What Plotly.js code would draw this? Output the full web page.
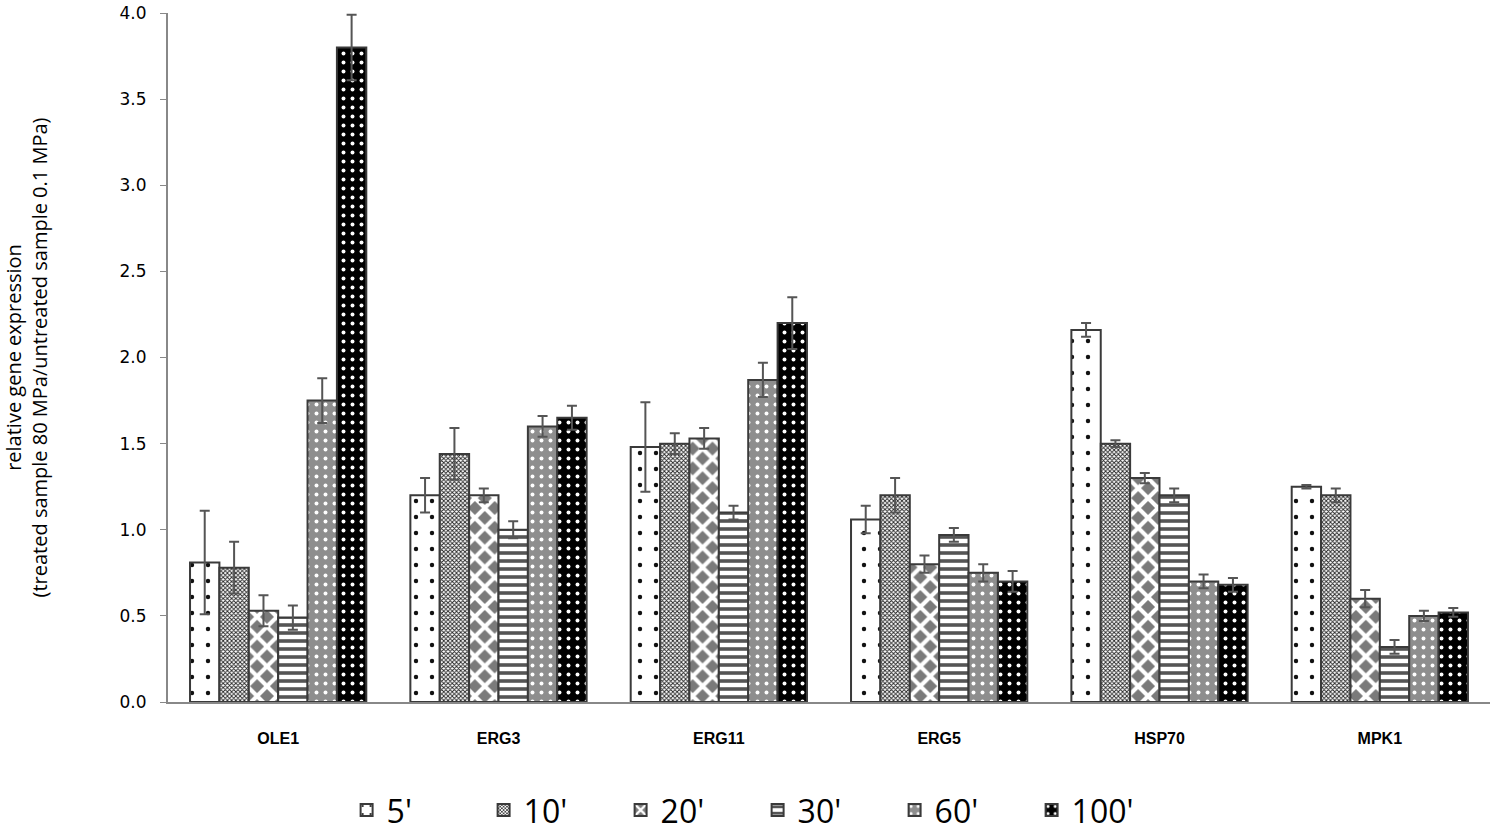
<!DOCTYPE html>
<html>
<head>
<meta charset="utf-8">
<script src="https://cdn.plot.ly/plotly-3.0.1.min.js"></script>
<style>
  html, body { margin: 0; padding: 0; background: #fff; }
  #chart { width: 1500px; height: 837px; }
</style>
</head>
<body>
<div id="chart"></div>
<script>
var genes = ['OLE1', 'ERG3', 'ERG11', 'ERG5', 'HSP70', 'MPK1'];
var times = ["5'", "10'", "20'", "30'", "60'", "100'"];

// values per time point, one entry per gene
var v5   = [0.81, 1.20, 1.48, 1.06, 2.16, 1.25];
var v10  = [0.78, 1.44, 1.50, 1.20, 1.50, 1.20];
var v20  = [0.53, 1.20, 1.53, 0.80, 1.30, 0.60];
var v30  = [0.49, 1.00, 1.10, 0.97, 1.20, 0.32];
var v60  = [1.75, 1.60, 1.87, 0.75, 0.70, 0.50];
var v100 = [3.80, 1.65, 2.20, 0.70, 0.68, 0.52];

// error bars (same order)
var e5   = [0.30, 0.10, 0.26, 0.08, 0.04, 0.01];
var e10  = [0.15, 0.15, 0.06, 0.10, 0.02, 0.04];
var e20  = [0.09, 0.04, 0.06, 0.05, 0.03, 0.05];
var e30  = [0.07, 0.05, 0.04, 0.04, 0.04, 0.04];
var e60  = [0.13, 0.06, 0.10, 0.05, 0.04, 0.03];
var e100 = [0.19, 0.07, 0.15, 0.06, 0.04, 0.025];

var yTicks = [0, 0.5, 1, 1.5, 2, 2.5, 3, 3.5, 4];
var yTickText = ['0.0', '0.5', '1.0', '1.5', '2.0', '2.5', '3.0', '3.5', '4.0'];

var patterns = [
  {shape: '.', fgcolor: '#111', bgcolor: '#fff', size: 16, solidity: 0.06},
  {shape: 'x', fgcolor: '#222', bgcolor: '#fff', size: 3, solidity: 0.5},
  {shape: 'x', fgcolor: '#fff', bgcolor: '#7a7a7a', size: 14, solidity: 0.5},
  {shape: '-', fgcolor: '#555', bgcolor: '#fff', size: 8, solidity: 0.45},
  {shape: '.', fgcolor: '#fff', bgcolor: '#8e8e8e', size: 9, solidity: 0.15},
  {shape: '.', fgcolor: '#fff', bgcolor: '#000', size: 9, solidity: 0.15}
];

var vals = [v5, v10, v20, v30, v60, v100];
var errs = [e5, e10, e20, e30, e60, e100];

var data = [];
for (var i = 0; i < times.length; i++) {
  data.push({
    x: genes,
    y: vals[i],
    name: times[i],
    type: 'bar',
    marker: {
      color: patterns[i].bgcolor,
      pattern: patterns[i],
      line: {color: '#3a3a3a', width: 2}
    },
    error_y: {type: 'data', array: errs[i], visible: true, color: '#555', thickness: 2, width: 5}
  });
}

var layout = {
  width: 1500,
  height: 837,
  margin: {l: 168, r: 10, t: 13, b: 135},
  paper_bgcolor: '#fff',
  plot_bgcolor: '#fff',
  barmode: 'group',
  bargap: 0.2,
  bargroupgap: 0,
  showlegend: true,
  font: {family: 'DejaVu Sans, sans-serif', color: '#000'},
  xaxis: {
    automargin: false,
    showline: true,
    linecolor: '#888',
    linewidth: 2,
    ticks: '',
    ticklabelstandoff: 21,
    tickfont: {family: 'Liberation Sans, Arial, sans-serif', size: 16, color: '#000', weight: 'bold'}
  },
  yaxis: {
    automargin: false,
    range: [0, 4],
    tickvals: yTicks,
    ticktext: yTickText,
    showgrid: false,
    zeroline: false,
    showline: true,
    linecolor: '#888',
    linewidth: 2,
    ticks: 'outside',
    ticklen: 6,
    tickcolor: '#888',
    ticklabelstandoff: 10,
    tickfont: {family: 'DejaVu Sans, sans-serif', size: 17, color: '#000'},
    title: {
      text: 'relative gene expression<br>(treated sample 80 MPa/untreated sample 0.1 MPa)',
      font: {family: 'Open Sans, sans-serif', size: 20, color: '#000'},
      standoff: 68
    }
  },
  legend: {
    orientation: 'h',
    x: 0.446,
    xanchor: 'center',
    yref: 'container',
    y: 0.032,
    yanchor: 'middle',
    font: {family: 'Open Sans, sans-serif', size: 32, color: '#000'},
    itemwidth: 30,
    entrywidth: 92
  }
};

Plotly.newPlot('chart', data, layout, {displayModeBar: false});
</script>
</body>
</html>
